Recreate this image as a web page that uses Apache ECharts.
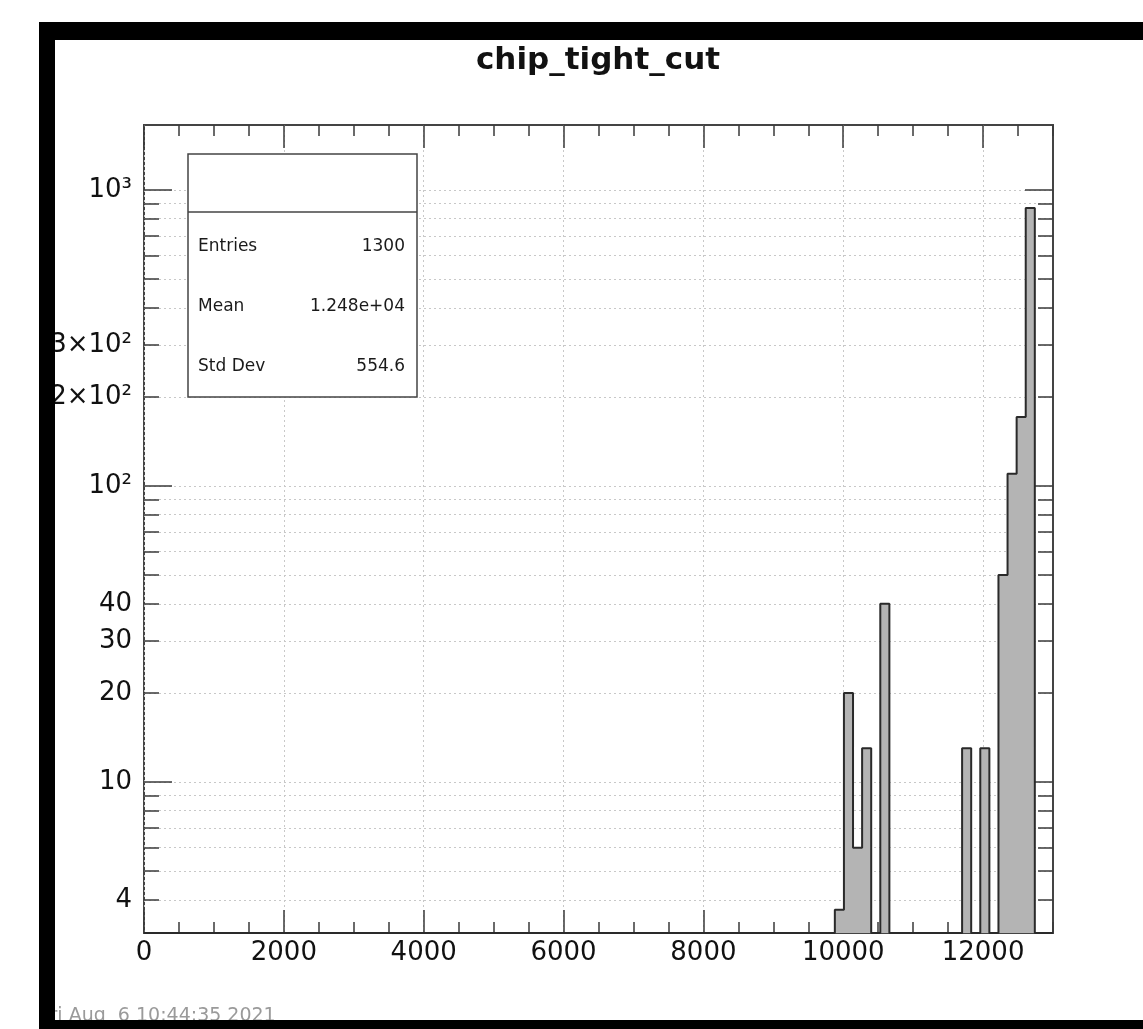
<!DOCTYPE html>
<html>
<head>
<meta charset="utf-8">
<script src="https://cdn.jsdelivr.net/npm/echarts@6/dist/echarts.min.js"></script>
<style>
html,body{margin:0;padding:0;background:#fff;}
#chart{width:1143px;height:1029px;}
</style>
</head>
<body>
<div id="chart"></div>
<script>
// ---- data ----
const titleText = 'chip_tight_cut';
const binWidth = 130;           // histogram bin width
const nBins = 100;              // bins from 0 to 13000
const filledBins = [76, 77, 78, 79, 81, 90, 92, 94, 95, 96, 97];
const binCounts  = [3.7, 20, 6, 13, 40, 13, 13, 50, 110, 171, 870];
const xRange = [0, 13000];
const yRange = [3.09, 1658];
const xMajorTicks = [0, 2000, 4000, 6000, 8000, 10000, 12000];
const xMinorTicks = [0, 500, 1000, 1500, 2000, 2500, 3000, 3500, 4000, 4500, 5000, 5500, 6000, 6500,
                     7000, 7500, 8000, 8500, 9000, 9500, 10000, 10500, 11000, 11500, 12000, 12500, 13000];
const yTicks = [4, 5, 6, 7, 8, 9, 10, 20, 30, 40, 50, 60, 70, 80, 90, 100, 200, 300, 400, 500, 600, 700, 800, 900, 1000];
const yMajorTicks = [10, 100, 1000];
const yLabelValues = [4, 10, 20, 30, 40, 100, 200, 300, 1000];
const yLabelTexts  = ['4', '10', '20', '30', '40', '10²', '2×10²', '3×10²', '10³'];
const statsNames  = ['Entries', 'Mean', 'Std Dev'];
const statsValues = ['1300', '1.248e+04', '554.6'];
const timeStamp = 'Fri Aug  6 10:44:35 2021';

// ---- build histogram (log10 space) ----
const lg = v => Math.log10(v);
const yMinLog = lg(yRange[0]);
const counts = new Array(nBins).fill(0);
filledBins.forEach((b, i) => { counts[b] = binCounts[i]; });
const histData = [];
for (let i = 0; i < nBins; i++) {
  histData.push([i * binWidth, counts[i] > 0 ? lg(counts[i]) : yMinLog]);
}
histData.push([nBins * binWidth, counts[nBins - 1] > 0 ? lg(counts[nBins - 1]) : yMinLog]);

const FONT = 'DejaVu Sans';
const labelMap = {};
yLabelValues.forEach((v, i) => { labelMap[v] = yLabelTexts[i]; });

const gridBox = {left: 144, top: 125, width: 909, height: 808};
const tickColor = '#3a3a3a';
const gridLine = {show: true, lineStyle: {color: '#c8c8c8', type: [2, 3], width: 1}};

function xAx(pos, major, labels) {
  return {
    type: 'value', position: pos, min: xRange[0], max: xRange[1],
    axisLine: {show: false, onZero: false},
    splitLine: (major && pos === 'bottom') ? gridLine : {show: false},
    axisTick: {show: true, inside: true, length: major ? 23 : 11,
               customValues: major ? xMajorTicks : xMinorTicks,
               lineStyle: {color: tickColor, width: 1.5}},
    axisLabel: labels ? {show: true, customValues: xMajorTicks, margin: 7,
               fontFamily: FONT, fontSize: 26, color: '#111',
               formatter: v => String(Math.round(v))} : {show: false}
  };
}
function yAx(pos, major, labels) {
  return {
    type: 'value', position: pos, min: yMinLog, max: lg(yRange[1]),
    axisLine: {show: false, onZero: false},
    splitLine: (!major && pos === 'left') ? gridLine : {show: false},
    axisTick: {show: true, inside: true, length: major ? 28 : 15,
               customValues: (major ? yMajorTicks : yTicks).map(lg),
               lineStyle: {color: tickColor, width: 1.5}},
    axisLabel: labels ? {show: true, customValues: yLabelValues.map(lg), margin: 12,
               fontFamily: FONT, fontSize: 26, color: '#111',
               formatter: v => labelMap[Math.round(Math.pow(10, v))] || ''} : {show: false}
  };
}

const chart = echarts.init(document.getElementById('chart'), null, {renderer: 'canvas'});

const statsEls = [
  {type: 'rect', shape: {x: 188, y: 154, width: 229, height: 243},
   style: {fill: '#fff', stroke: '#444', lineWidth: 1.5}, z: 100},
  {type: 'line', shape: {x1: 188, y1: 212, x2: 417, y2: 212},
   style: {stroke: '#444', lineWidth: 1.5}, z: 101}
];
const statsY = [247, 307, 367];
statsNames.forEach((n, i) => {
  statsEls.push({type: 'text', x: 198, y: statsY[i], z: 102,
    style: {text: n, font: '17px "DejaVu Sans"', fill: '#1a1a1a', textVerticalAlign: 'middle'}});
  statsEls.push({type: 'text', x: 405, y: statsY[i], z: 102,
    style: {text: statsValues[i], font: '17px "DejaVu Sans"', fill: '#1a1a1a',
            textAlign: 'right', textVerticalAlign: 'middle'}});
});

const option = {
  backgroundColor: '#fff',
  animation: false,
  grid: Object.assign({show: true, borderColor: '#444', borderWidth: 2, backgroundColor: 'transparent'}, gridBox),
  xAxis: [xAx('bottom', true, true), xAx('bottom', false, false), xAx('top', true, false), xAx('top', false, false)],
  yAxis: [yAx('left', false, true), yAx('left', true, false), yAx('right', false, false), yAx('right', true, false)],
  series: [{
    type: 'line', xAxisIndex: 0, yAxisIndex: 0,
    step: 'end', symbol: 'none', data: histData,
    lineStyle: {color: '#2a2a2a', width: 2},
    areaStyle: {color: '#b4b4b4', opacity: 1, origin: 'start'},
    clip: true, z: 3
  }],
  graphic: [
    {type: 'text', x: 598, y: 61, z: 100,
     style: {text: titleText, font: 'bold 31px "DejaVu Sans"', fill: '#111',
             textAlign: 'center', textVerticalAlign: 'middle'}},
    {type: 'text', x: 40, y: 1016, z: 100,
     style: {text: timeStamp, font: '19px "DejaVu Sans"', fill: '#9a9a9a', textVerticalAlign: 'middle'}},
    {type: 'group', children: statsEls},
    // torn black edges of the photographed page
    {type: 'rect', z: 200, shape: {x: 44, y: 22, width: 1099, height: 18}, style: {fill: '#000'}},
    {type: 'rect', z: 200, shape: {x: 39, y: 22, width: 16, height: 1007}, style: {fill: '#000'}},
    {type: 'rect', z: 200, shape: {x: 39, y: 1020, width: 1104, height: 9}, style: {fill: '#000'}}
  ]
};
chart.setOption(option);
</script>
</body>
</html>
